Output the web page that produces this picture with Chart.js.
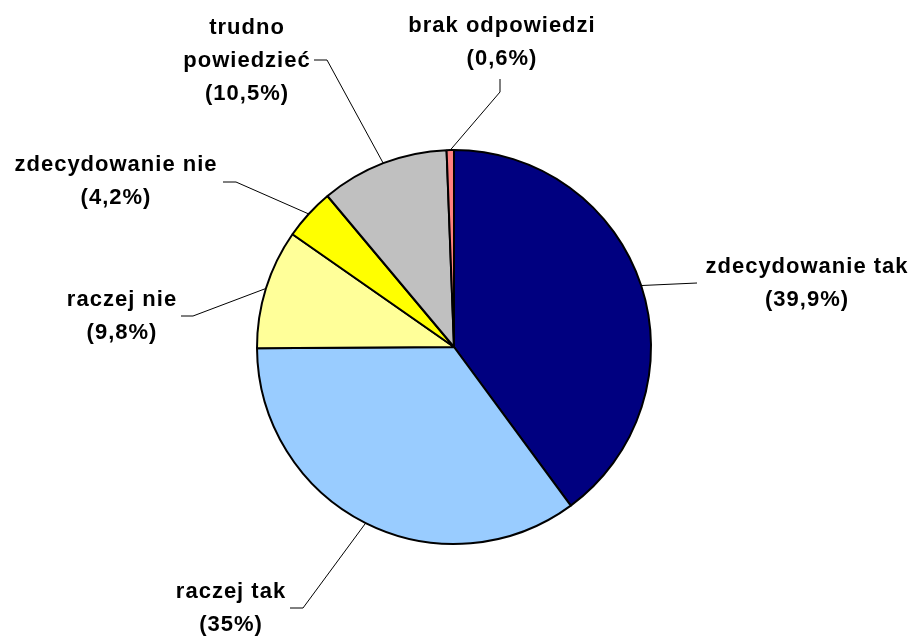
<!DOCTYPE html>
<html>
<head>
<meta charset="utf-8">
<script src="https://cdn.jsdelivr.net/npm/chart.js@4/dist/chart.umd.min.js"></script>
<style>
  html, body { margin: 0; padding: 0; background: #fff; }
  #wrap { width: 914px; height: 636px; }
</style>
</head>
<body>
<div id="wrap"><canvas id="pieChart" width="914" height="636"></canvas></div>
<script>
// answers, clockwise from 12 o'clock
const categories = ['zdecydowanie tak', 'raczej tak', 'raczej nie', 'zdecydowanie nie', 'trudno powiedzieć', 'brak odpowiedzi'];
const shares = [39.9, 35, 9.8, 4.2, 10.5, 0.6];
// how each category name is broken into lines
const nameLines = [['zdecydowanie tak'], ['raczej tak'], ['raczej nie'], ['zdecydowanie nie'], ['trudno', 'powiedzieć'], ['brak odpowiedzi']];
const sliceColors = ['#000080', '#99CCFF', '#FFFF99', '#FFFF00', '#C0C0C0', '#FF8080'];

// where each label sits and how its leader line bends (x, y of the first text line, elbow, line end)
const labelLayout = [
    { x: 806, y: 267, elbow: null,       end: [697, 283] },
    { x: 230, y: 592, elbow: [303, 608], end: [290, 608] },
    { x: 121, y: 300, elbow: [193, 316], end: [181, 316] },
    { x: 115, y: 165, elbow: [236, 182], end: [223, 182] },
    { x: 246, y: 28,  elbow: [327, 60],  end: [314, 60] },
    { x: 501, y: 26,  elbow: [500, 92],  end: [500, 79] }
];

const LINE_GAP = 33;

function fmtShare(v) {
    return '(' + String(v).replace('.', ',') + '%)';
}

const calloutPlugin = {
    id: 'callouts',
    afterDatasetsDraw(chart) {
        const ctx = chart.ctx;
        const arcs = chart.getDatasetMeta(0).data;
        ctx.save();
        ctx.strokeStyle = '#000';
        ctx.lineWidth = 1;
        arcs.forEach((arc, i) => {
            const lay = labelLayout[i];
            const mid = (arc.startAngle + arc.endAngle) / 2;
            const ax = arc.x + Math.cos(mid) * arc.outerRadius;
            const ay = arc.y + Math.sin(mid) * arc.outerRadius;
            ctx.beginPath();
            ctx.moveTo(ax, ay);
            if (lay.elbow) ctx.lineTo(lay.elbow[0], lay.elbow[1]);
            ctx.lineTo(lay.end[0], lay.end[1]);
            ctx.stroke();

            const lines = nameLines[i].concat([fmtShare(shares[i])]);
            ctx.fillStyle = '#000';
            ctx.font = 'bold 22px "Liberation Sans", Arial, sans-serif';
            ctx.letterSpacing = '1px';
            ctx.textAlign = 'center';
            ctx.textBaseline = 'middle';
            lines.forEach((t, k) => {
                ctx.fillText(t, lay.x + 1, lay.y + k * LINE_GAP);
            });
        });
        ctx.restore();
    }
};

new Chart(document.getElementById('pieChart'), {
    type: 'pie',
    data: {
        labels: categories,
        datasets: [{
            data: shares,
            backgroundColor: sliceColors,
            borderColor: '#000',
            borderWidth: 2
        }]
    },
    options: {
        responsive: false,
        animation: false,
        layout: { padding: { top: 149, bottom: 91, left: 256, right: 262 } },
        plugins: {
            legend: { display: false },
            tooltip: { enabled: false }
        }
    },
    plugins: [calloutPlugin]
});
</script>
</body>
</html>
